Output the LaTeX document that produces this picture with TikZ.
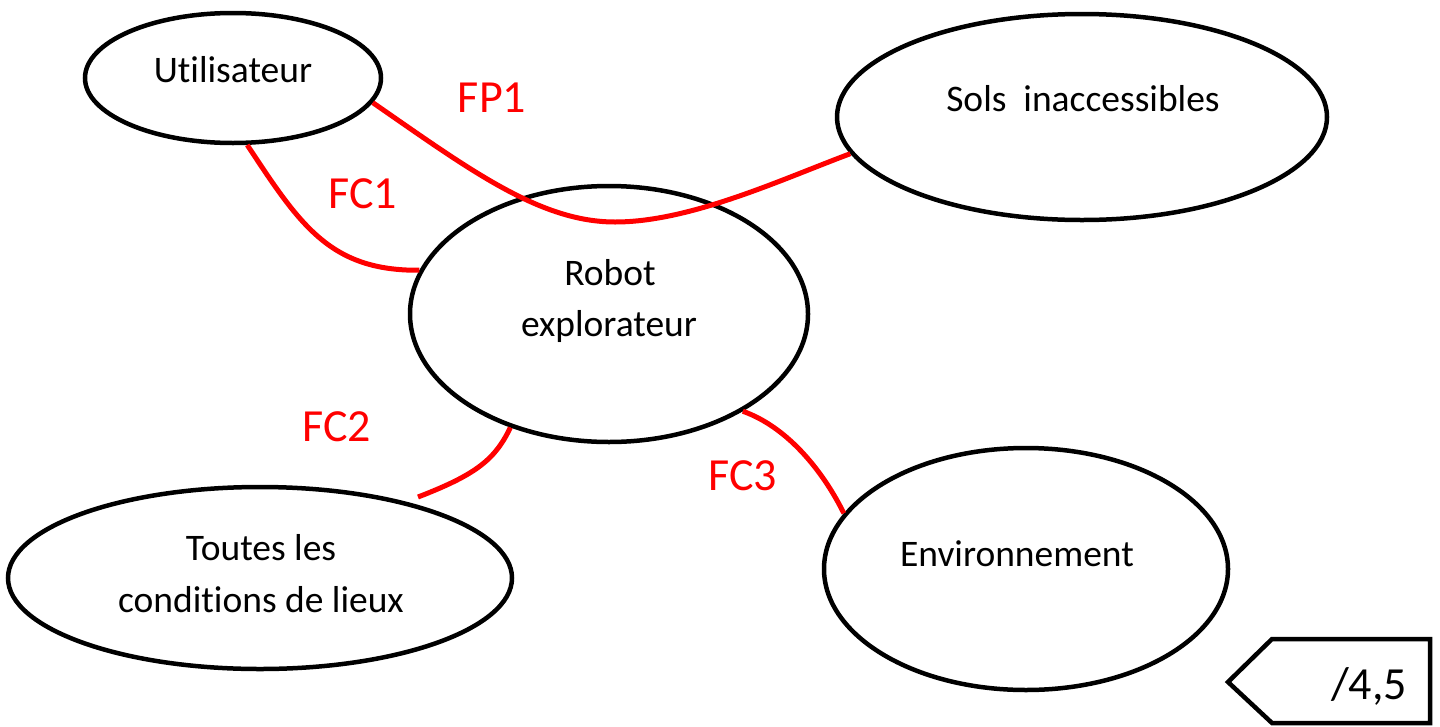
\documentclass[tikz,border=0pt]{standalone}
\usepackage{fontspec}
\setmainfont{Carlito}[Ligatures=NoCommon]
\usetikzlibrary{shapes.geometric}

\tikzset{
  bubble/.style={ellipse, draw=black, line width=4.5pt, inner sep=0pt},
  txt/.style={font=\fontsize{37.5}{45}\selectfont, text=black, inner sep=0pt, anchor=base},
  flabel/.style={font=\fontsize{46}{54}\selectfont, text=red, inner sep=0pt, anchor=base},
  link/.style={draw=red, line width=5pt}
}

\begin{document}
\begin{tikzpicture}[x=1pt, y=-1pt]
  \useasboundingbox (0,0) rectangle (1440,726);

  % actors
  \node[bubble, minimum width=296pt, minimum height=130pt] (util)  at (233,78)  {};
  \node[bubble, minimum width=490pt, minimum height=206pt] (sols)  at (1082,117) {};
  \node[bubble, minimum width=398pt, minimum height=256pt] (robot) at (609,314) {};
  \node[bubble, minimum width=504pt, minimum height=182pt] (lieux) at (260,578) {};
  \node[bubble, minimum width=404pt, minimum height=242pt] (env)   at (1026,569) {};

  % actor texts
  \node[txt] (util-t)   at (233,82)   {Utilisateur};
  \node[txt] (sols-t)   at (1083,111) {Sols~~inaccessibles};
  \node[txt] (robot-t1) at (610,285)  {Robot};
  \node[txt] (robot-t2) at (609,336)  {explorateur};
  \node[txt] (lieux-t1) at (261,560)  {Toutes les};
  \node[txt] (lieux-t2) at (261,612)  {conditions de lieux};
  \node[txt] (env-t)    at (1017,566) {Environnement};

  % function links
  \coordinate (fp1-low) at (615,222);
  \coordinate (fc2-end) at (418,497);
  \path[link] (util.-10) .. controls (470,170) and (540,222) .. (fp1-low)
              .. controls (690,222) and (780,180) .. (sols.-171.5);
  \path[link] (util.-78) .. controls (300,225) and (330,271) .. (robot.167);
  \path[link] (robot.-131) .. controls (495,460) and (475,475) .. (fc2-end);
  \path[link] (robot.-36) .. controls (790,428) and (825,475) .. (env.163);

  % function labels
  \node[flabel] (fp1) at (492,112) {FP1};
  \node[flabel] (fc1) at (363,208) {FC1};
  \node[flabel] (fc2) at (337,441) {FC2};
  \node[flabel] (fc3) at (743,490) {FC3};

  % score tag
  \draw[line width=4.5pt, line join=miter]
    (1430,639) -- (1272,639) -- (1228,682) -- (1272,723) -- (1430,723) -- cycle;
  \node[font=\fontsize{46}{54}\selectfont, inner sep=0pt, anchor=base] (score) at (1369,699) {/4,5};
\end{tikzpicture}
\end{document}
